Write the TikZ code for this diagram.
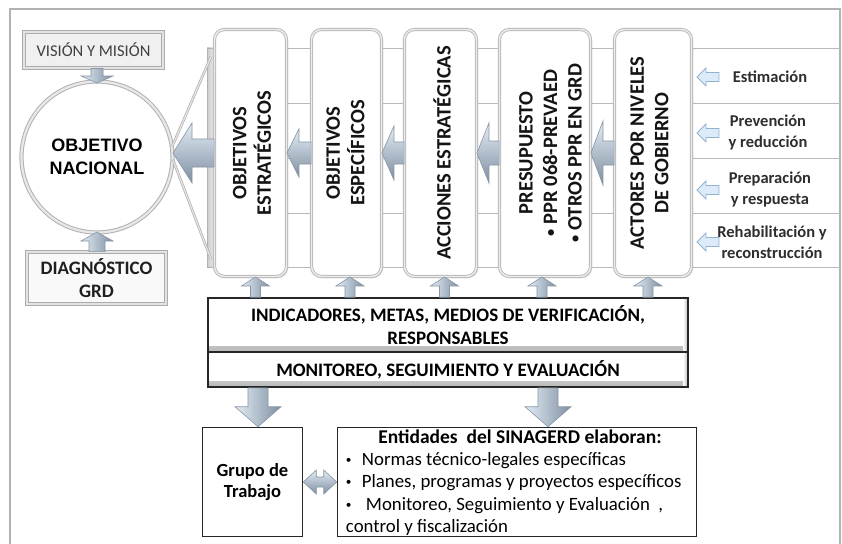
\documentclass[tikz,border=0pt]{standalone}
\usepackage{fontspec}
\setmainfont{Carlito}
\newfontfamily\arialf{Liberation Sans}
\usetikzlibrary{calc,shadows}
\definecolor{arrlight}{HTML}{E2ECF6}
\definecolor{arrdark}{HTML}{7F8FA0}
\definecolor{arredge}{HTML}{8795A4}
\definecolor{rowarr}{HTML}{DDEAF7}
\definecolor{rowedge}{HTML}{92B2D1}
\newcommand\smbul[1]{\raisebox{0.1em}{\scalebox{#1}{•}}}
% block arrow: [style]{from}{tip}{shaft half}{head half}{head length}
\newcommand\blockarrow[6][]{%
  \coordinate (ba-h) at ($(#3)!#6!(#2)$);
  \path[#1] ($(#2)!#4!90:(#3)$) -- ($(ba-h)!#4!-90:(#2)$) -- ($(ba-h)!#5!-90:(#2)$) -- (#3)
    -- ($(ba-h)!#5!90:(#2)$) -- ($(ba-h)!#4!90:(#2)$) -- ($(#2)!#4!-90:(#3)$) -- cycle;}
\newcommand\dblockarrow[6][]{%
  \coordinate (da-h1) at ($(#2)!#6!(#3)$);
  \coordinate (da-h2) at ($(#3)!#6!(#2)$);
  \path[#1] (#2) -- ($(da-h1)!#5!90:(#3)$) -- ($(da-h1)!#4!90:(#3)$) -- ($(da-h2)!#4!-90:(#2)$)
    -- ($(da-h2)!#5!-90:(#2)$) -- (#3) -- ($(da-h2)!#5!90:(#2)$) -- ($(da-h2)!#4!90:(#2)$)
    -- ($(da-h1)!#4!-90:(#3)$) -- ($(da-h1)!#5!-90:(#3)$) -- cycle;}
\tikzset{
  tallbox/.style={draw=gray!55, double=gray!15, double distance=1.4pt, line width=0.9pt, fill=white,
    rounded corners=10pt, minimum height=247pt, inner sep=0pt,
    drop shadow={shadow xshift=1.5pt, shadow yshift=-1.5pt, opacity=0.35, fill=gray}},
  vtext/.style={rotate=90, align=center, inner sep=0pt, text=black!92, font=\fontsize{20.5}{24.5}\selectfont\bfseries},
  bevelbox/.style={draw=gray!65, double=gray!22, double distance=2pt, line width=0.9pt, inner sep=0pt},
  thickbox/.style={draw=black!85, line width=1.6pt, fill=white, inner sep=0pt, minimum width=480pt,
    path picture={\shade[top color=white, bottom color=gray!55] ([yshift=6pt]path picture bounding box.south west) rectangle (path picture bounding box.south east);
                  \shade[left color=white, right color=gray!55] ([xshift=-5pt]path picture bounding box.north east) rectangle (path picture bounding box.south east);}},
  plainbox/.style={draw=black!85, line width=1.5pt, fill=white, inner sep=0pt},
  rowlabel/.style={align=center, inner sep=0pt, text=black!82, font=\fontsize{16.5}{21}\selectfont\bfseries},
  barrowh/.style={draw=arredge, line width=0.6pt, top color=arrlight, bottom color=arrdark},
  barrowv/.style={draw=arredge, line width=0.6pt, left color=arrlight, right color=arrdark},
  rowarrow/.style={draw=rowedge, line width=0.8pt, fill=rowarr},
  stripline/.style={draw=gray!55, line width=0.8pt},
  diagline/.style={draw=gray!60, double=gray!20, double distance=1.2pt, line width=0.7pt},
}
\begin{document}
\begin{tikzpicture}[x=1pt,y=-1pt]
\useasboundingbox (0,0) rectangle (842,543);
\fill[white] (0,0) rectangle (842,543);
\draw[gray!60, line width=1.2pt] (10,9) rectangle (840,552);

% strip of the four phases
\foreach \yy in {48,103,158,213,267} \draw[stripline] (211,\yy) -- (840,\yy);
\node[draw=gray!60, line width=0.7pt, left color=gray!40, right color=gray!12, minimum width=8pt,
  minimum height=219pt, inner sep=0pt] (bar) at (211,157.5) {};

% national objective
\node[circle, draw=gray!60, double=gray!18, double distance=2.2pt, line width=1pt, fill=white,
  minimum size=151pt, inner sep=0pt, align=center,
  font=\arialf\bfseries\fontsize{18}{23}\selectfont] (circ) at (97,157) {OBJETIVO\\NACIONAL};
\coordinate (dgu) at ($(bar.north)+(0,9)$);
\coordinate (dgl) at ($(bar.south)+(0,-8)$);
\draw[diagline] (dgu) -- (circ.8);
\draw[diagline] (dgl) -- (circ.-2);

\node[bevelbox, fill=gray!12, minimum width=139pt, minimum height=36pt, text=black!75,
  font=\fontsize{16.5}{20}\selectfont] (vis) at (93.5,50) {VISIÓN Y MISIÓN};
\node[bevelbox, fill=gray!5, minimum width=139pt, minimum height=52pt, align=center, text=black!88,
  font=\fontsize{19}{23}\selectfont\bfseries] (diag) at (96.5,278) {DIAGNÓSTICO\\GRD};

% tall boxes
\node[tallbox, minimum width=72pt] (b1) at (250.5,153) {};
\node[tallbox, minimum width=70pt] (b2) at (346.5,153) {};
\node[tallbox, minimum width=72pt] (b3) at (440.5,153) {};
\node[tallbox, minimum width=91pt] (b4) at (545,153) {};
\node[tallbox, minimum width=77pt] (b5) at (653,153) {};
\node[vtext] (t1) at ($(b1.center)+(1.5,0)$) {OBJETIVOS\\ESTRATÉGICOS};
\node[vtext] (t2) at ($(b2.center)+(-1,0)$) {OBJETIVOS\\ESPECÍFICOS};
\node[vtext] (t3) at ($(b3.center)+(1.5,0)$) {ACCIONES ESTRATÉGICAS};
\node[vtext] (t4) at ($(b4.center)+(5.5,0)$) {PRESUPUESTO\\\smbul{0.7}\ PPR 068-PREVAED\\\smbul{0.7}\ OTROS PPR EN GRD};
\node[vtext] (t5) at ($(b5.center)+(-3.5,0)$) {ACTORES POR NIVELES\\DE GOBIERNO};

% phase labels
\node[rowlabel] (r1) at (770,77) {Estimación};
\node[rowlabel] (r2) at (768,133) {Prevención\\y reducción};
\node[rowlabel] (r3) at (770,190) {Preparación\\y respuesta};
\node[rowlabel] (r4) at (772,242) {Rehabilitación y\\reconstrucción};
\foreach \rr in {r1,r2,r3,r4} {
  \coordinate (\rr-t) at ($(b5.east |- \rr)+(5,0)$);
  \coordinate (\rr-b) at ($(\rr-t)+(22,0)$);
  \blockarrow[rowarrow]{\rr-b}{\rr-t}{4.5pt}{9pt}{9pt}
}

% arrows between tall boxes
\blockarrow[barrowh]{b2.west}{b1.east}{11pt}{24pt}{12pt}
\blockarrow[barrowh]{b3.west}{b2.east}{11pt}{27pt}{12pt}
\blockarrow[barrowh]{b4.west}{b3.east}{12pt}{30pt}{12pt}
\blockarrow[barrowh]{b5.west}{b4.east}{12pt}{32pt}{12pt}
\coordinate (bigtip) at (circ.east |- b1.west);
\blockarrow[barrowh]{b1.west}{bigtip}{14pt}{30pt}{19pt}

% circle arrows
\coordinate (vtip) at ($(circ.north)+(0,2)$);
\coordinate (vbase) at (vis.south -| vtip);
\blockarrow[barrowv]{vbase}{vtip}{6pt}{16pt}{7pt}
\coordinate (gtip) at ($(circ.south)+(0,-1)$);
\coordinate (gbase) at (diag.north -| gtip);
\blockarrow[barrowv]{gbase}{gtip}{8pt}{16pt}{9pt}

% indicators and monitoring
\node[thickbox, minimum height=54pt, align=center, font=\fontsize{19}{23}\selectfont\bfseries] (ind) at (448,325)
  {INDICADORES, METAS, MEDIOS DE VERIFICACIÓN,\\RESPONSABLES};
\node[thickbox, minimum height=35pt, font=\fontsize{19}{23}\selectfont\bfseries] (mon) at (448,369.5)
  {MONITOREO, SEGUIMIENTO Y EVALUACIÓN};

% up arrows from indicators
\coordinate (u1) at ($(b1.south)+(5,0)$);
\coordinate (u2) at ($(b2.south)+(3.5,0)$);
\coordinate (u3) at ($(b3.south)+(4,0)$);
\coordinate (u4) at ($(b4.south)+(-3,0)$);
\coordinate (u5) at ($(b5.south)+(-5,0)$);
\foreach \uu in {u1,u2,u3,u4,u5} {
  \coordinate (\uu-b) at (\uu |- ind.north);
  \blockarrow[barrowv]{\uu-b}{\uu}{5pt}{14pt}{9pt}
}

% bottom boxes
\node[plainbox, minimum width=100pt, minimum height=109pt, align=center,
  font=\fontsize{18.5}{21}\selectfont\bfseries] (grp) at (252.5,482) {Grupo de\\Trabajo};
\node[plainbox, minimum width=359pt, minimum height=109pt] (ent) at (517,482) {};
\node[anchor=north, inner sep=0pt, font=\fontsize{19.5}{22}\selectfont\bfseries] (entt)
  at ($(ent.north)+(3,3)$) {Entidades\ \ del SINAGERD elaboran:};
\node[anchor=north west, inner sep=0pt, align=left, font=\fontsize{18.8}{22.5}\selectfont] (entl)
  at ($(ent.north west)+(9,25)$)
  {\makebox[16pt][l]{\smbul{0.6}}Normas técnico-legales específicas\\
   \makebox[16pt][l]{\smbul{0.6}}Planes, programas y proyectos específicos\\
   \makebox[20pt][l]{\smbul{0.6}}Monitoreo, Seguimiento y Evaluación\ \ ,\\
   control y fiscalización};

% down arrows and double arrow
\coordinate (d1s) at ($(grp.north |- mon.south)+(5.5,0)$);
\coordinate (d1e) at ($(grp.north)+(5.5,0)$);
\blockarrow[barrowv]{d1s}{d1e}{10pt}{23pt}{20pt}
\coordinate (d2s) at ($(ent.north |- mon.south)+(31,0)$);
\coordinate (d2e) at ($(ent.north)+(31,0)$);
\blockarrow[barrowv]{d2s}{d2e}{10pt}{23pt}{20pt}
\dblockarrow[barrowh]{grp.east}{ent.west}{5pt}{12pt}{13pt}
\end{tikzpicture}
\end{document}
